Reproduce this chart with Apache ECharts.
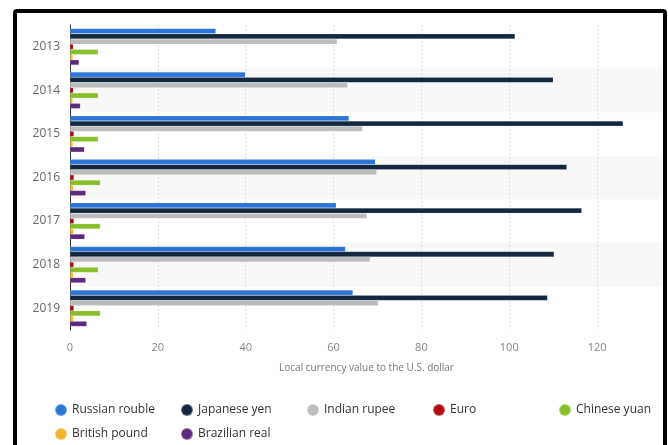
<!DOCTYPE html>
<html><head><meta charset="utf-8">
<script src="https://cdn.jsdelivr.net/npm/echarts@6/dist/echarts.min.js"></script>
<style>html,body{margin:0;padding:0;background:#fff}#c{width:668px;height:445px}</style>
</head><body><div id="c"></div>
<script>
const years = ['2013','2014','2015','2016','2017','2018','2019'];
const seriesNames = ['Russian rouble','Japanese yen','Indian rupee','Euro','Chinese yuan','British pound','Brazilian real'];
const russianRouble = [33.2, 39.9, 63.5, 69.5, 60.6, 62.7, 64.4];
const japaneseYen = [101.3, 110.0, 125.9, 113.1, 116.5, 110.2, 108.7];
const indianRupee = [60.8, 63.2, 66.6, 69.8, 67.6, 68.3, 70.2];
const euro = [0.75, 0.75, 0.9, 0.9, 0.89, 0.85, 0.89];
const chineseYuan = [6.4, 6.4, 6.4, 6.9, 6.9, 6.4, 6.9];
const britishPound = [0.65, 0.61, 0.65, 0.74, 0.78, 0.75, 0.78];
const brazilianReal = [2.05, 2.35, 3.27, 3.58, 3.35, 3.58, 3.8];
const xTicks = [0, 20, 40, 60, 80, 100, 120];
const colors = ['#2b74d8','#13283f','#bcbcbc','#b00a10','#88bf29','#f1b52c','#5d2a7d'];
const allData = [russianRouble, japaneseYen, indianRupee, euro, chineseYuan, britishPound, brazilianReal];

const chart = echarts.init(document.getElementById('c'));
const font = '"Open Sans", "DejaVu Sans", sans-serif';
const legends = seriesNames.map((n, i) => ({
  left: 49 + (i % 5) * 126, top: 398 + Math.floor(i / 5) * 24,
  icon: 'circle', itemWidth: 12, itemHeight: 12,
  textStyle: {color: '#333', fontSize: 12, fontFamily: font},
  data: [n]
}));
chart.setOption({
  animation: false,
  textStyle: {fontFamily: font},
  grid: {left: 70, right: 5, top: 25, bottom: 115},
  xAxis: {
    type: 'value', min: 0, max: 135, interval: 20,
    name: 'Local currency value to the U.S. dollar',
    nameLocation: 'middle', nameGap: 33,
    nameTextStyle: {color: '#777', fontSize: 10, fontFamily: font},
    axisLine: {show: false}, axisTick: {show: false},
    axisLabel: {color: '#888', fontSize: 11, margin: 12, showMaxLabel: false,
      formatter: v => xTicks.indexOf(v) >= 0 ? String(v) : ''},
    splitLine: {lineStyle: {color: '#ddd', type: [2, 2], width: 1}}
  },
  yAxis: {
    type: 'category', data: years, inverse: true,
    axisLine: {show: true, lineStyle: {color: '#333', width: 1}},
    axisTick: {show: false},
    axisLabel: {color: '#666', fontSize: 12, margin: 10},
    splitArea: {show: true, areaStyle: {color: ['rgba(255,255,255,0)', '#f8f8f8']}}
  },
  legend: legends,
  series: seriesNames.map((n, i) => ({
    name: n, type: 'bar', data: allData[i],
    barWidth: 5.2, barGap: '0%', barCategoryGap: '15%',
    itemStyle: {color: colors[i], borderColor: 'rgba(255,255,255,0.35)', borderWidth: 0.4}
  })),
  graphic: [{
    type: 'rect', z: 100,
    shape: {x: 15, y: 11, width: 650, height: 470, r: 2},
    style: {fill: 'none', stroke: '#000', lineWidth: 4}
  }]
});
</script></body></html>
